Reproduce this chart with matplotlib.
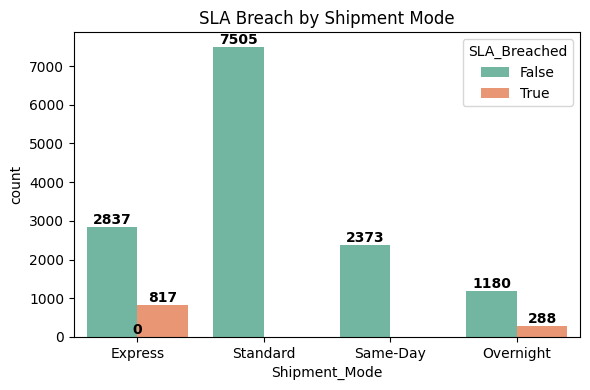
import numpy as np
import matplotlib
matplotlib.use("Agg")
import matplotlib.pyplot as plt
import seaborn as sns

modes = ["Express", "Standard", "Same-Day", "Overnight"]
false_counts = [2837, 7505, 2373, 1180]
true_counts = [817, 0, 0, 288]
hue_labels = ["False", "True"]

# seaborn bar colours are desaturated to 0.75
colors = [sns.desaturate(c, 0.75) for c in sns.color_palette("Set2", 2)]

fig, ax = plt.subplots(figsize=(5.9, 3.9), dpi=100)
fig.subplots_adjust(left=74 / 590, right=580 / 590, top=1 - 32 / 390, bottom=1 - 337 / 390)
x = np.arange(len(modes))
w = 0.4

bars_f = ax.bar(x - w / 2, false_counts, w, color=colors[0], label=hue_labels[0])
# only the non-empty True bars are drawn
tx = [i for i, v in enumerate(true_counts) if v > 0]
tv = [true_counts[i] for i in tx]
bars_t = ax.bar(np.array(tx) + w / 2, tv, w, color=colors[1], label=hue_labels[1])

for b in list(bars_f) + list(bars_t):
    ax.annotate(str(int(b.get_height())), (b.get_x() + b.get_width() / 2, b.get_height()),
                ha="center", va="bottom", fontsize=10, fontweight="bold")
# stray zero label from an empty patch
ax.annotate("0", (0, 0), ha="center", va="bottom", fontsize=10, fontweight="bold")

ax.set_xticks(x)
ax.set_xticklabels(modes)
ax.set_xlim(-0.5, len(modes) - 0.5)
ax.set_ylim(0, max(false_counts) * 1.05)
ax.set_xlabel("Shipment_Mode")
ax.set_ylabel("count")
ax.set_title("SLA Breach by Shipment Mode")
ax.legend(title="SLA_Breached", loc="upper right")

plt.savefig("out.png")
